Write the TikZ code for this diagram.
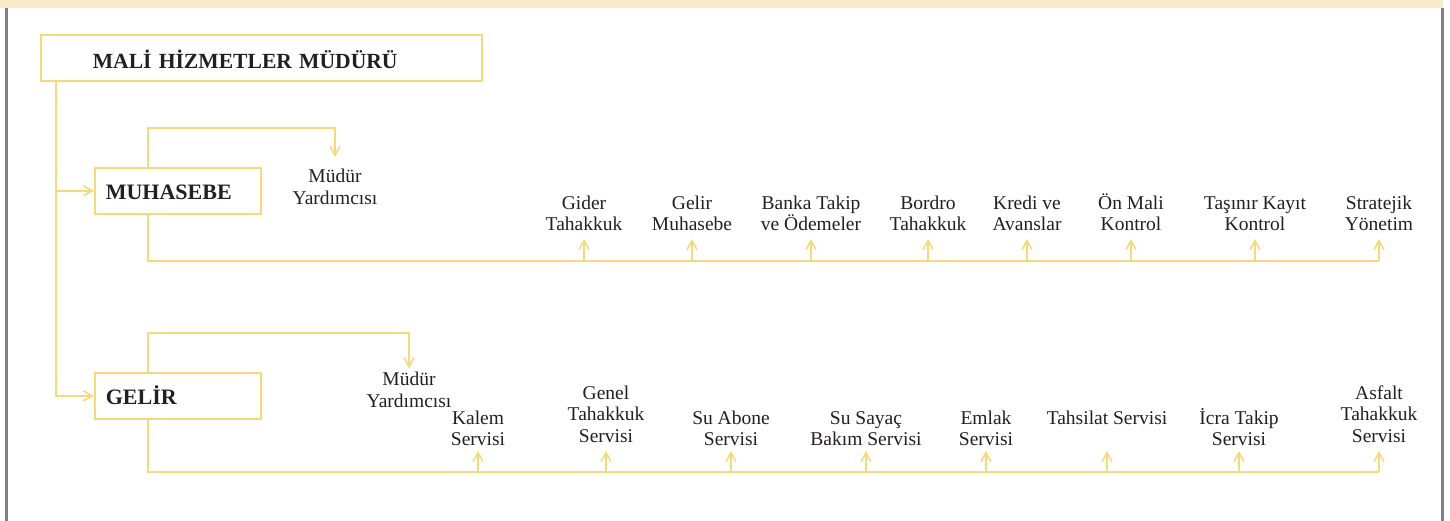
\documentclass[tikz,border=0pt]{standalone}
\usepackage{fontspec}
\setmainfont{Liberation Serif}
\usetikzlibrary{arrows.meta, positioning, calc}
\definecolor{orgyellow}{RGB}{244,217,125}
\definecolor{orgcream}{RGB}{250,235,200}
\definecolor{orggray}{RGB}{128,128,134}
\definecolor{orgtext}{RGB}{35,31,32}

\begin{document}
\begin{tikzpicture}[x=1pt, y=-1pt]
  \tikzstyle{unit} = [draw=orgyellow, line width=1.6pt, minimum height=46pt, inner ysep=0pt, inner xsep=11pt, text height=18pt, text depth=0pt, anchor=north west, align=left, font=\fontsize{22}{24}\selectfont\bfseries, text=orgtext]
  \tikzstyle{task} = [align=center, inner sep=0pt, anchor=south, font=\fontsize{19.5}{21.5}\selectfont, text=orgtext]
  \tikzstyle{link} = [draw=orgyellow, line width=2.2pt]
  \tikzstyle{arr} = [link, -{Straight Barb[length=9pt, width=10pt, line width=1.6pt]}]

  \useasboundingbox (0,0) rectangle (1450,521);
  % page frame
  \fill[orgcream] (0,0) rectangle (1443,8);
  \fill[orggray] (5,8) rectangle (7.5,521);
  \fill[orggray] (1441,8) rectangle (1443.5,521);

  % units
  \node[unit, inner xsep=52pt, text width=337pt, text height=21pt, font=\fontsize{21.6}{24}\selectfont\bfseries] (mhm) at (40,34) {MALİ HİZMETLER MÜDÜRÜ};
  \node[unit, text width=144pt] (muh) at (94,167) {MUHASEBE};
  \node[unit, text width=144pt] (gel) at (94,372) {GELİR};

  % muhasebe
  \node[task] (mdy) at (335,204.5) {Müdür\\Yardımcısı};
  \node[task] (m1) at (584,231) {Gider\\Tahakkuk};
  \node[task] (m2) at (692,231) {Gelir\\Muhasebe};
  \node[task] (m3) at (811,231) {Banka Takip\\ve Ödemeler};
  \node[task] (m4) at (928,231) {Bordro\\Tahakkuk};
  \node[task] (m5) at (1027,231) {Kredi ve\\Avanslar};
  \node[task] (m6) at (1131,231) {Ön Mali\\Kontrol};
  \node[task] (m7) at (1255,231) {Taşınır Kayıt\\Kontrol};
  \node[task] (m8) at (1379,231) {Stratejik\\Yönetim};

  % gelir
  \node[task] (gdy) at (409,407.5) {Müdür\\Yardımcısı};
  \node[task] (g1) at (478,446) {Kalem\\Servisi};
  \node[task] (g2) at (606,442.5) {Genel\\Tahakkuk\\Servisi};
  \node[task] (g3) at (731,446) {Su Abone\\Servisi};
  \node[task] (g4) at (866,446) {Su Sayaç\\Bakım Servisi};
  \node[task] (g5) at (986,446) {Emlak\\Servisi};
  \node[task] (g6) at (1107,425) {Tahsilat Servisi};
  \node[task] (g7) at (1239,446) {İcra Takip\\Servisi};
  \node[task] (g8) at (1379,442.5) {Asfalt\\Tahakkuk\\Servisi};

  \coordinate (mbus) at (0,261);
  \coordinate (gbus) at (0,472);
  \coordinate (gtip) at (0,451);

  % trunk
  \draw[arr] ([xshift=16pt]mhm.south west) |- (muh.west);
  \draw[arr] ([xshift=16pt]mhm.south west) |- (gel.west);

  % deputies
  \draw[arr] ([xshift=54pt]muh.north west) -- ++(0,-39) -| ([yshift=12pt]mdy.north);
  \draw[arr] ([xshift=54pt]gel.north west) -- ++(0,-39) -| ([yshift=3.5pt]gdy.north);

  % muhasebe bus
  \draw[link] ([xshift=54pt]muh.south west) |- (m8.south |- mbus);
  \draw[arr] (m1.south |- mbus) -- ([yshift=-8pt]m1.south);
  \draw[arr] (m2.south |- mbus) -- ([yshift=-8pt]m2.south);
  \draw[arr] (m3.south |- mbus) -- ([yshift=-8pt]m3.south);
  \draw[arr] (m4.south |- mbus) -- ([yshift=-8pt]m4.south);
  \draw[arr] (m5.south |- mbus) -- ([yshift=-8pt]m5.south);
  \draw[arr] (m6.south |- mbus) -- ([yshift=-8pt]m6.south);
  \draw[arr] (m7.south |- mbus) -- ([yshift=-8pt]m7.south);
  \draw[arr] (m8.south |- mbus) -- ([yshift=-8pt]m8.south);

  % gelir bus
  \draw[link] ([xshift=54pt]gel.south west) |- (g8.south |- gbus);
  \draw[arr] (g1.south |- gbus) -- (g1.south |- gtip);
  \draw[arr] (g2.south |- gbus) -- (g2.south |- gtip);
  \draw[arr] (g3.south |- gbus) -- (g3.south |- gtip);
  \draw[arr] (g4.south |- gbus) -- (g4.south |- gtip);
  \draw[arr] (g5.south |- gbus) -- (g5.south |- gtip);
  \draw[arr] (g6.south |- gbus) -- (g6.south |- gtip);
  \draw[arr] (g7.south |- gbus) -- (g7.south |- gtip);
  \draw[arr] (g8.south |- gbus) -- (g8.south |- gtip);
\end{tikzpicture}
\end{document}
